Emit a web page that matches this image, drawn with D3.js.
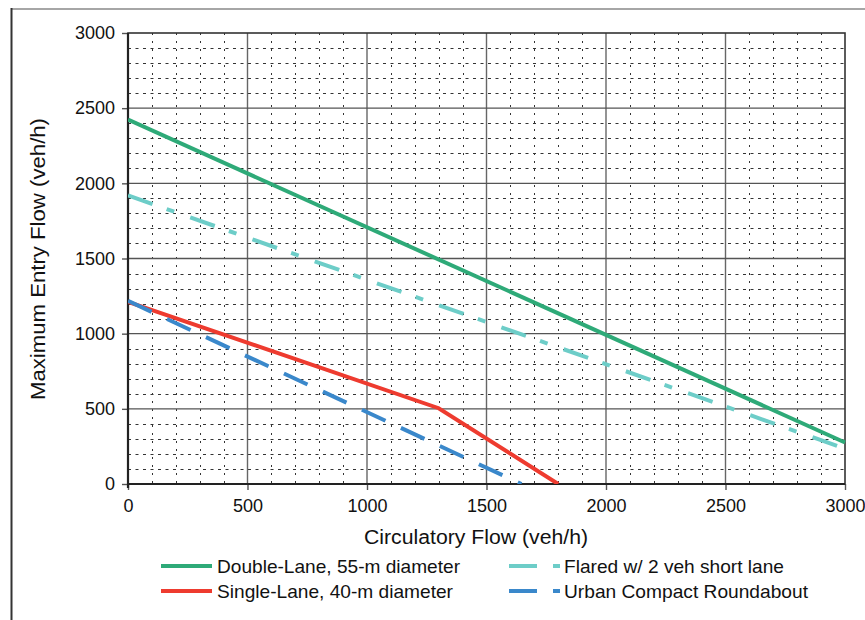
<!DOCTYPE html>
<html><head><meta charset="utf-8">
<script src="https://cdn.jsdelivr.net/npm/d3@7"></script>
<style>html,body{margin:0;padding:0;background:#fff;}svg{display:block;font-family:"Liberation Sans",Arial,sans-serif;}</style>
</head><body>
<svg id="c" width="865" height="620"></svg>
<script>
const xTicks = [0, 500, 1000, 1500, 2000, 2500, 3000];
const yTicks = [0, 500, 1000, 1500, 2000, 2500, 3000];
const seriesNames = ["Double-Lane, 55-m diameter", "Flared w/ 2 veh short lane", "Single-Lane, 40-m diameter", "Urban Compact Roundabout"];
const doubleLane = [[0, 2424], [3000, 276]];
const flared = [[0, 1920], [3000, 235]];
const singleLane = [[0, 1212], [1300, 504], [1800, 0]];
const urbanCompact = [[0, 1218], [1646, 0]];

const svg = d3.select("#c");
const L = 128, R = 845, T = 33, B = 484;
const x = d3.scaleLinear().domain([0, 3000]).range([L, R]);
const y = d3.scaleLinear().domain([0, 3000]).range([B, T]);

// outer frame
svg.append("line").attr("x1", 11).attr("x2", 865).attr("y1", 9).attr("y2", 9).attr("stroke", "#888").attr("stroke-width", 1.5);
svg.append("line").attr("x1", 11.5).attr("x2", 11.5).attr("y1", 8).attr("y2", 620).attr("stroke", "#333").attr("stroke-width", 2);

// minor grid
const minor = d3.range(100, 3000, 100).filter(v => v % 500 !== 0);
const g = svg.append("g");
g.selectAll(".mx").data(minor).join("line")
  .attr("x1", d => Math.round(x(d)) + 0.5).attr("x2", d => Math.round(x(d)) + 0.5)
  .attr("y1", T).attr("y2", B).attr("stroke", "#333").attr("stroke-width", 1).attr("stroke-dasharray", "2,6");
g.selectAll(".my").data(minor).join("line")
  .attr("y1", d => Math.round(y(d)) + 0.5).attr("y2", d => Math.round(y(d)) + 0.5)
  .attr("x1", L).attr("x2", R).attr("stroke", "#333").attr("stroke-width", 1).attr("stroke-dasharray", "3,4.5");
// major grid
const major = [500, 1000, 1500, 2000, 2500];
g.selectAll(".Mx").data(major).join("line")
  .attr("x1", d => x(d)).attr("x2", d => x(d))
  .attr("y1", T).attr("y2", B).attr("stroke", "#666").attr("stroke-width", 1.4);
g.selectAll(".My").data(major).join("line")
  .attr("y1", d => y(d)).attr("y2", d => y(d))
  .attr("x1", L).attr("x2", R).attr("stroke", "#555").attr("stroke-width", 1.4);

// axes
const xAxis = d3.axisBottom(x).tickValues(xTicks).tickSize(6).tickPadding(9).tickFormat(d3.format("d"));
const yAxis = d3.axisLeft(y).tickValues(yTicks).tickSize(6).tickPadding(7).tickFormat(d3.format("d"));
const gx = svg.append("g").attr("transform", `translate(0,${B})`).call(xAxis);
const gy = svg.append("g").attr("transform", `translate(${L},0)`).call(yAxis);
[gx, gy].forEach(a => {
  a.attr("font-size", null).attr("font-family", null);
  a.select(".domain").remove();
  a.selectAll(".tick line").attr("stroke", "#555").attr("stroke-width", 1.4);
  a.selectAll(".tick text").attr("fill", "#111").attr("font-size", 18);
});
// frame of plot
svg.append("rect").attr("x", L).attr("y", T).attr("width", R - L).attr("height", B - T)
  .attr("fill", "none").attr("stroke", "#333").attr("stroke-width", 1.6);
svg.append("line").attr("x1", L).attr("x2", L).attr("y1", T).attr("y2", B + 4).attr("stroke", "#222").attr("stroke-width", 2.2);
svg.append("line").attr("x1", L).attr("x2", R).attr("y1", B).attr("y2", B).attr("stroke", "#222").attr("stroke-width", 2.2);

// series
const line = d3.line().x(d => x(d[0])).y(d => y(d[1]));
const styles = [
  {data: doubleLane, color: "#2eaa78", dash: null},
  {data: flared, color: "#6dcdc8", dash: "26,15,8,17"},
  {data: singleLane, color: "#ee3b2f", dash: null},
  {data: urbanCompact, color: "#3a88cb", dash: "26,17"}
];
svg.append("clipPath").attr("id", "pc").append("rect").attr("x", L).attr("y", T - 5).attr("width", R - L + 2).attr("height", B - T + 5);
styles.forEach(s => {
  svg.append("path").datum(s.data).attr("d", line).attr("fill", "none")
    .attr("stroke", s.color).attr("stroke-width", 4).attr("stroke-dasharray", s.dash)
    .attr("clip-path", "url(#pc)");
});

// axis titles
svg.append("text").attr("x", 476).attr("y", 537).attr("dy", "0.35em").attr("text-anchor", "middle")
  .attr("font-size", 20).attr("fill", "#111").attr("textLength", 224).attr("lengthAdjust", "spacingAndGlyphs").text("Circulatory Flow (veh/h)");
svg.append("text").attr("transform", `translate(38,259) rotate(-90)`).attr("dy", "0.35em").attr("text-anchor", "middle")
  .attr("font-size", 20).attr("fill", "#111").attr("textLength", 282).attr("lengthAdjust", "spacingAndGlyphs").text("Maximum Entry Flow (veh/h)");

// legend
const leg = [
  {name: seriesNames[0], color: styles[0].color, dashed: false, x: 161, y: 566, w: 243},
  {name: seriesNames[2], color: styles[2].color, dashed: false, x: 161, y: 591, w: 236},
  {name: seriesNames[1], color: styles[1].color, dashed: true, x: 509, y: 566, w: 220},
  {name: seriesNames[3], color: styles[3].color, dashed: true, x: 509, y: 591, w: 244}
];
leg.forEach(l => {
  let tx;
  if (l.dashed) {
    svg.append("line").attr("x1", l.x).attr("x2", l.x + 28).attr("y1", l.y).attr("y2", l.y).attr("stroke", l.color).attr("stroke-width", 4);
    svg.append("line").attr("x1", l.x + 44).attr("x2", l.x + 51).attr("y1", l.y).attr("y2", l.y).attr("stroke", l.color).attr("stroke-width", 4);
    tx = l.x + 55;
  } else {
    svg.append("line").attr("x1", l.x).attr("x2", l.x + 51).attr("y1", l.y).attr("y2", l.y).attr("stroke", l.color).attr("stroke-width", 4);
    tx = l.x + 56;
  }
  svg.append("text").attr("x", tx).attr("y", l.y).attr("dy", "0.35em").attr("font-size", 19).attr("fill", "#111")
    .attr("textLength", l.w).attr("lengthAdjust", "spacingAndGlyphs").text(l.name);
});
</script>
</body></html>
